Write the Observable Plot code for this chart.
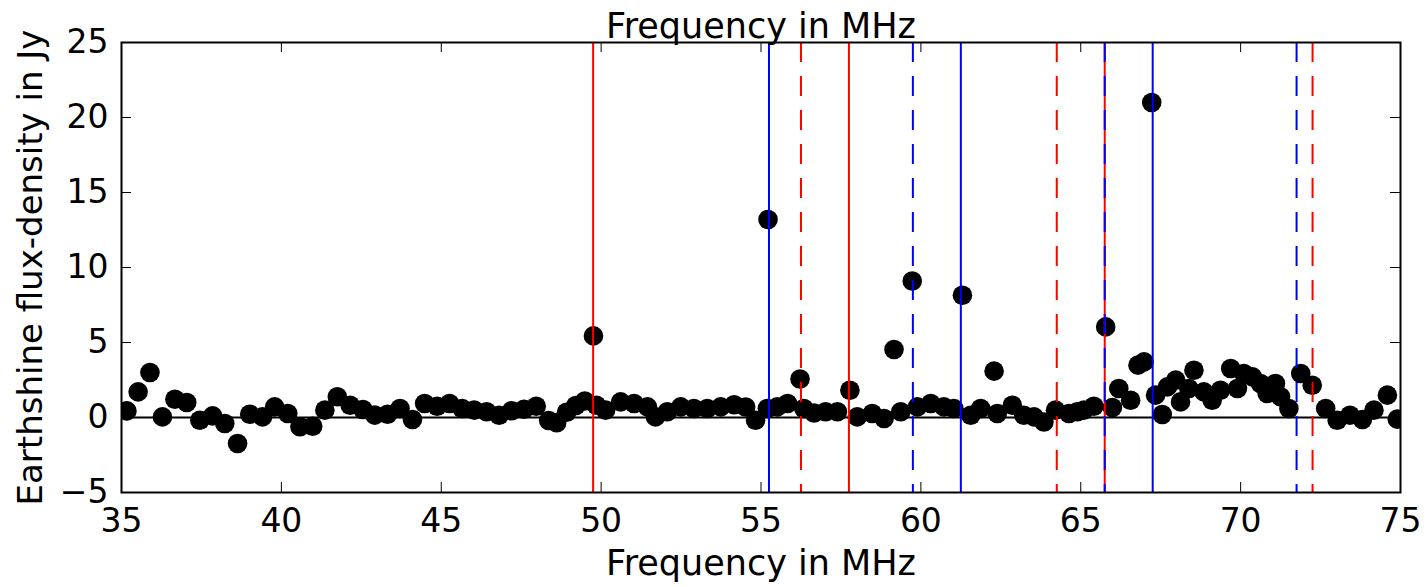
<!DOCTYPE html>
<html>
<head>
<meta charset="utf-8">
<script src="https://cdn.jsdelivr.net/npm/d3@7"></script>
<script src="https://cdn.jsdelivr.net/npm/@observablehq/plot@0.6"></script>
<style>
  html, body { margin: 0; padding: 0; background: white; }
</style>
</head>
<body>
<div id="chart"></div>
<script>
const freq = [
  35.17, 35.52, 35.89, 36.28, 36.67, 37.04, 37.45, 37.85, 38.23, 38.63,
  39.01, 39.41, 39.79, 40.20, 40.58, 40.98, 41.36, 41.75, 42.15, 42.55,
  42.92, 43.32, 43.71, 44.10, 44.48, 44.87, 45.26, 45.65, 46.03, 46.42,
  46.81, 47.20, 47.59, 47.97, 48.36, 48.61, 48.92, 49.21, 49.49, 49.76,
  49.85, 50.14, 50.61, 51.03, 51.45, 51.70, 52.07, 52.49, 52.90, 53.32,
  53.74, 54.16, 54.52, 54.83, 55.20, 55.22, 55.51, 55.83, 56.22, 56.34,
  56.66, 57.02, 57.39, 57.78, 58.01, 58.48, 58.85, 59.16, 59.37, 59.73,
  59.89, 60.31, 60.72, 61.03, 61.30, 61.56, 61.87, 62.29, 62.39, 62.86,
  63.22, 63.54, 63.85, 64.21, 64.63, 64.89, 65.10, 65.41, 65.78, 65.99,
  66.19, 66.56, 66.79, 66.98, 67.22, 67.34, 67.55, 67.71, 67.97, 68.12,
  68.38, 68.54, 68.85, 69.11, 69.37, 69.69, 69.90, 70.10, 70.37, 70.62,
  70.83, 71.09, 71.25, 71.51, 71.88, 72.24, 72.66, 73.02, 73.42, 73.81,
  74.17, 74.59, 74.90
];
const flux = [
  0.44, 1.71, 3.00, 0.04, 1.22, 1.00, -0.18, 0.11, -0.40, -1.73,
  0.22, 0.04, 0.71, 0.27, -0.62, -0.58, 0.49, 1.38, 0.82, 0.53,
  0.16, 0.22, 0.60, -0.13, 0.93, 0.75, 0.93, 0.60, 0.49, 0.38,
  0.15, 0.45, 0.55, 0.75, -0.20, -0.35, 0.35, 0.80, 1.10, 5.44,
  0.82, 0.49, 1.04, 0.93, 0.71, 0.04, 0.38, 0.71, 0.60, 0.60,
  0.71, 0.85, 0.70, -0.18, 0.60, 13.20, 0.71, 0.93, 2.57, 0.60,
  0.30, 0.38, 0.38, 1.82, 0.04, 0.27, -0.07, 4.53, 0.38, 9.10,
  0.71, 0.93, 0.71, 0.60, 8.15, 0.15, 0.60, 3.09, 0.27, 0.82,
  0.15, 0.04, -0.30, 0.49, 0.27, 0.38, 0.49, 0.75, 6.04, 0.67,
  1.93, 1.15, 3.49, 3.71, 21.00, 1.49, 0.20, 2.04, 2.49, 1.04,
  1.93, 3.15, 1.71, 1.15, 1.82, 3.27, 1.93, 2.93, 2.71, 2.27,
  1.60, 2.27, 1.38, 0.60, 2.93, 2.15, 0.60, -0.18, 0.15, -0.13,
  0.49, 1.49, -0.11
];
const redSolid = [49.75, 57.75, 65.75];
const redDashed = [56.25, 64.25, 72.25];
const blueSolid = [55.25, 61.25, 67.25];
const blueDashed = [59.75, 65.75, 71.75];
const xTicks = [35, 40, 45, 50, 55, 60, 65, 70, 75];
const yTicks = [-5, 0, 5, 10, 15, 20, 25];
const xLabel = "Frequency in MHz";
const yLabel = "Earthshine flux-density in Jy";

const points = freq.map((f, i) => ({f, v: flux[i]}));

const W = 1426, H = 587, mL = 121, mR = 26, mT = 42, mB = 95;
const innerH = H - mT - mB, innerW = W - mL - mR;
const tickLen = 10;

const chart = Plot.plot({
  width: W, height: H,
  marginLeft: mL, marginRight: mR, marginTop: mT, marginBottom: mB,
  x: {domain: [35, 75]},
  y: {domain: [-5, 25]},
  style: {fontFamily: "'DejaVu Sans', sans-serif", fontSize: "33px", background: "white", color: "black", overflow: "visible"},
  marks: [
    Plot.ruleY([0], {stroke: "black", strokeWidth: 2}),
    Plot.dot(points, {x: "f", y: "v", r: 9.8, fill: "black", stroke: "none", clip: true}),
    Plot.ruleX(redSolid, {x: d => d, stroke: "#ff0000", strokeWidth: 2}),
    Plot.ruleX(redDashed, {x: d => d, stroke: "#ff0000", strokeWidth: 2, strokeDasharray: "20,14"}),
    Plot.ruleX(blueSolid, {x: d => d, stroke: "#0000ff", strokeWidth: 2}),
    Plot.ruleX(blueDashed, {x: d => d, stroke: "#0000ff", strokeWidth: 2, strokeDasharray: "20,14"}),
    // inward ticks: bottom, top, left, right
    Plot.ruleX(xTicks, {x: d => d, stroke: "black", strokeWidth: 1, insetTop: innerH - tickLen}),
    Plot.ruleX(xTicks, {x: d => d, stroke: "black", strokeWidth: 1, insetBottom: innerH - tickLen}),
    Plot.ruleY(yTicks, {y: d => d, stroke: "black", strokeWidth: 1, insetRight: innerW - tickLen}),
    Plot.ruleY(yTicks, {y: d => d, stroke: "black", strokeWidth: 1, insetLeft: innerW - tickLen}),
    Plot.frame({stroke: "black", strokeWidth: 2}),
    Plot.axisX({ticks: xTicks, tickSize: 0, tickPadding: 16, label: null}),
    Plot.axisY({ticks: yTicks, tickSize: 0, tickPadding: 13, label: null}),
    Plot.text([xLabel], {frameAnchor: "bottom", dy: 82, lineAnchor: "bottom", textAnchor: "middle", fontSize: 35, fill: "black"}),
    Plot.text([xLabel], {frameAnchor: "top", dy: -5, lineAnchor: "bottom", textAnchor: "middle", fontSize: 35, fill: "black"}),
    Plot.text([yLabel], {frameAnchor: "left", rotate: -90, dx: -80, lineAnchor: "bottom", textAnchor: "middle", fontSize: 34, fill: "black"})
  ]
});
document.getElementById("chart").appendChild(chart);
</script>
</body>
</html>
